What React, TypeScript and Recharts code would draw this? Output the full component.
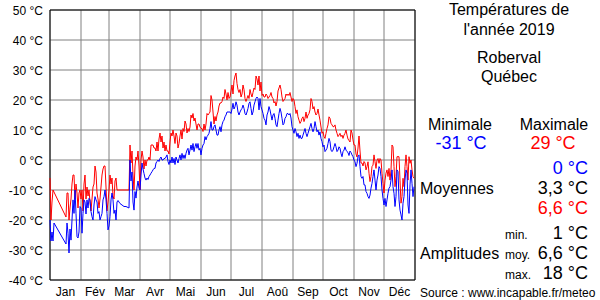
import React from 'react';
import { LineChart, Line, XAxis, YAxis, CartesianGrid, ReferenceArea } from 'recharts';

const monthStarts = [1, 32, 60, 91, 121, 152, 182, 213, 244, 274, 305, 335];
const monthNames = ['Jan', 'Fév', 'Mar', 'Avr', 'Mai', 'Jun', 'Jul', 'Aoû', 'Sep', 'Oct', 'Nov', 'Déc'];
const yTicks = [-40, -30, -20, -10, 0, 10, 20, 30, 40, 50];

// daily maxima, null = missing day
const tMax: (number | null)[] = [
  -6, -20, -14, -10, null, null, null, null, null, null, // 1
  null, null, null, null, null, null, -19, -11, -11, -20, // 11
  -16, -13, -8, -5, -5, -13, -8, -11, -16, -11, // 21
  -10, -13, -10, -17, -8, -5, -13, -9, -12, -10, // 31
  -14, -17, -13, -9, -8, -2, -4, -11, -13, -16, // 41
  -13, -9, -5, -3, -2, -2, -9, -17, -14, -10, // 51
  -5, -8, -6, -12, -13, -7, -6, -10, null, null, // 61
  null, null, null, null, null, null, null, null, null, -10, // 71
  5, -1, 3, -5, -10, -2, 1, 0, 3, -2, // 81
  -10, 0, 3, 1, -3, 0, -2, 0, 0, 1, // 91
  0, 5, 5, 5, 4, 4, 3, 6, 3, 7, // 101
  9, 6, 8, 4, 6, 3, 5, 3, 3, 2, // 111
  6, 9, 8, 10, 8, 5.5, 9, 8, 4, 5.5, // 121
  8, 10, 7, 10.5, 9.5, 13, 12, 9, 10.5, 9.5, // 131
  11, 15, 14, 15.5, 13, 14, 12, 10, 12, 12, // 141
  11, 10.5, 10.5, 9.5, 12, 10, 12, 15.5, 15, 15.5, // 151
  16, 21.5, 20, 16, 12, 14.5, 13, 15, 16, 18, // 161
  19, 19, 19.5, 21, 20.5, 23.5, 22, 20, 22.5, 20.5, // 171
  21, 23, 25, 22, 26.5, 28, 29, 25.5, 23.5, 22.5, // 181
  23.5, 21, 22, 25, 23.5, 20.5, 19.5, 20.5, 21.5, 20.5, // 191
  23.5, 22, 21, 22.5, 24, 23.5, 28, 27, 25, 28, // 201
  23, 26, 21.5, 22, 21, 21, 22, 21.5, 20.5, 21, // 211
  21.5, 22.5, 21, 20.5, 19, 19.5, 18, 19.5, 23, 24, // 221
  25, 23.5, 21, 19.5, 20, 20.5, 22, 21.5, 22, 21.5, // 231
  22.5, 21, 19.5, 20.5, 20, 17.8, 15.5, 16.7, 14.4, 13.3, // 241
  12.2, 12.8, 13.9, 14.4, 12.8, 13.9, 16, 13.9, 15, 15.5, // 251
  16.7, 20.5, 19.5, 17, 17.8, 16, 15, 15.5, 17, 15, // 261
  13.3, 11, 8.9, 9.4, 7.8, 7.2, 8.9, 10.5, 11.7, 14.4, // 271
  13.9, 12.2, 11.7, 11.1, 11.1, 11.7, 10, 8.9, 7.8, 8.3, // 281
  8.9, 7.8, 8.3, 7.2, 8.3, 8.9, 10, 8.3, 7, 6.5, // 291
  6, 10, 9, 6.7, 5, 5, 2, 1, 4, 8, // 301
  3, -1, -1, -2, -0.5, -1, -3.3, -2.2, -0.6, -4.4, // 311
  -7.2, -5.5, -2.2, -1.7, 1.7, -0.6, -2.8, 0, 0.5, -1.1, // 321
  0.5, 0, -4.4, -7.8, -11, -6.7, -4.4, -3.3, -5.5, -2.8, // 331
  -6.7, -3.3, 5, 4.4, -2.2, -8.9, -5.5, 1.1, 1.1, 1.1, // 341
  -6.7, -14.4, -12.2, -6.1, -8.9, -2.2, 1.7, -2.2, -6.7, 1.1, // 351
  -1.1, 0, -3.3, -5.5, -6.1, // 361
];

// daily minima
const tMin: (number | null)[] = [
  -20, -27, -24, -27, -21, null, null, null, null, null, // 1
  null, null, null, null, null, null, -28, -21, -24.4, -31, // 11
  -23, -26.7, -20, -13.3, -17.8, -10, -17.8, -25.5, -26, -24, // 21
  -15.5, -16, -24.4, -17.8, -13.3, -14, -18, -13.3, -16, -12.8, // 31
  -13.3, -17.2, -18.9, -20, -15, -12.2, -13.3, -14, -17.8, -17.2, // 41
  -20, -18.9, -17.8, -13.3, -12.2, -10, -13.3, -17.8, -23.3, -22, // 51
  -18.9, -13.3, -11, -13.3, -17.8, -16.7, -20, -14, -13.5, null, // 61
  -14.5, null, -15, null, -15.5, null, -15.5, null, null, -16, // 71
  0, -7, -4, -14, -16.7, -10.5, -12.7, -9, -7, -9.4, // 81
  -10, -5, -1, -3, -4.5, -6, -6.7, -6, -6.5, -5.5, // 91
  -5, -4.4, -3.9, -3.3, -2.8, -2.8, -1, -0.5, 0, -0.5, // 101
  0.5, 1, 0, 0, 0.5, 0.5, 1, 1.7, -0.5, -1.5, // 111
  0, -1, 1, -1, 0.5, -1.5, 1, 0, -1, 0.5, // 121
  1.7, 0, 2.2, 0.5, 1.7, 0.5, 2.2, 3.3, 3.9, 1.7, // 131
  3.3, 5, 3.3, 5.5, 2.8, 4.4, 5.5, 3.9, 5.5, 3.3, // 141
  3.9, 1.7, 3.9, 5, 5.5, 7.8, 6.7, 7.8, 8.3, 8.9, // 151
  10.5, 12.8, 10, 10, 11.1, 11.7, 10, 8.3, 8.3, 10, // 161
  11.1, 9.4, 11.7, 12.8, 13.3, 14.4, 15, 16, 16, 16, // 171
  16, 15.5, 17, 18.9, 17, 17.8, 19.4, 18.3, 16, 15, // 181
  16, 16.7, 17.2, 18.3, 17.2, 15.5, 15, 16, 17.2, 18.9, // 191
  19.4, 17.2, 15, 16, 18.3, 19.4, 20.5, 21, 20.5, 16.7, // 201
  20.5, 17.8, 16.7, 15.5, 13.9, 13.3, 11.7, 15, 16, 17.8, // 211
  16.7, 15, 13.3, 15, 15.5, 13.9, 11.7, 11.1, 13.3, 15.5, // 221
  17.2, 16, 13.9, 11.7, 12.2, 13.9, 14.4, 15.5, 15.5, 15, // 231
  15.5, 14, 11.1, 10, 8.9, 10.5, 9.4, 7.8, 8.9, 7.2, // 241
  8.3, 7.2, 7.2, 8.3, 9.4, 10.5, 8.9, 7.8, 8.9, 10, // 251
  11.1, 12.2, 10.5, 9.4, 10.5, 12.8, 11.1, 9.4, 10, 8.3, // 261
  9.4, 7.2, 6.1, 4.4, 5, 2.8, 3.3, 3.9, 5.5, 7.2, // 271
  6.1, 3.3, 2.8, 3.3, 4.4, 5.5, 4.4, 2.8, 3.3, 4.4, // 281
  3.9, 2.2, 1.1, 2.8, 3.3, 4.4, 3.3, 2.8, 2.5, 1.5, // 291
  3, 2.5, 1.7, 1.1, 0, -0.6, -2.2, -1.1, 1.1, 1.7, // 301
  -2.2, -5.5, -6.1, -5.5, -8.3, -8.3, -10.5, -11.1, -12.2, -12.8, // 311
  -11.7, -9.4, -7.8, -5.5, -3.3, -6.7, -10, -6.7, -5, -2.2, // 321
  -2.8, -5.5, -10, -12.8, -15, -12.8, -15.5, -13.3, -11.1, -9.4, // 331
  -8.9, -6.7, -3.3, -8.9, -11.1, -15.5, -12.2, -3.3, -3.9, -13.3, // 341
  -16.7, -18.3, -20, -14.4, -12.2, -6.7, -3.3, -4.4, -15, -17.8, // 351
  -8.3, -3.3, -7.8, -12.2, -8.9, // 361
];

const data = tMax.map((v, i) => ({ day: i + 1, tmax: v, tmin: tMin[i] }));

const FONT = '"Liberation Sans", Arial, sans-serif';

const MonthTick = (props: any) => {
  const { x, y, payload } = props;
  const i = monthStarts.indexOf(payload.value);
  const next = monthStarts[i + 1] ?? 366;
  // 1 px per day, label sits in the middle of the month
  const half = (next - payload.value) / 2;
  return (
    <text x={x + half} y={y + 8} textAnchor="middle" fontFamily={FONT} fontSize={12} fill="#000">
      {monthNames[i]}
    </text>
  );
};

const TempTick = (props: any) => {
  const { x, y, payload } = props;
  return (
    <text x={x + 1} y={y + 5} textAnchor="end" fontFamily={FONT} fontSize={12} fill="#000">
      {`${payload.value} °C`}
    </text>
  );
};

const Side: React.FC = () => {
  const t = (x: number, y: number, s: string, size = 16, anchor = 'middle', color = '#000') => (
    <text x={x} y={y} fontSize={size} textAnchor={anchor} fill={color}>{s}</text>
  );
  return (
    <svg width={600} height={300} style={{ position: 'absolute', left: 0, top: 0, pointerEvents: 'none' }} fontFamily={FONT}>
      {t(509, 15, 'Températures de')}
      {t(509, 35, "l'année 2019")}
      {t(509, 63, 'Roberval')}
      {t(509, 82, 'Québec')}
      {t(460, 130, 'Minimale')}
      {t(554, 130, 'Maximale')}
      {t(461, 149, '-31 °C', 18, 'middle', '#0000ff')}
      {t(553, 149, '29 °C', 18, 'middle', '#ff0000')}
      {t(588, 174, '0 °C', 18, 'end', '#0000ff')}
      {t(420, 194, 'Moyennes', 16, 'start')}
      {t(588, 194, '3,3 °C', 18, 'end')}
      {t(588, 214, '6,6 °C', 18, 'end', '#ff0000')}
      {t(505, 239, 'min.', 12, 'start')}
      {t(588, 239, '1 °C', 18, 'end')}
      {t(420, 259, 'Amplitudes', 16, 'start')}
      {t(505, 259, 'moy.', 12, 'start')}
      {t(588, 259, '6,6 °C', 18, 'end')}
      {t(505, 279, 'max.', 12, 'start')}
      {t(588, 279, '18 °C', 18, 'end')}
      {t(420, 297, 'Source : www.incapable.fr/meteo', 12, 'start')}
    </svg>
  );
};

export default function App() {
  return (
    <div style={{ position: 'absolute', left: 0, top: 0, width: 600, height: 300, background: '#fff' }}>
      <LineChart width={600} height={300} data={data} margin={{ top: 10, right: 185, bottom: 0, left: 0 }}>
        <CartesianGrid stroke="#808080" strokeWidth={1} />
        <XAxis
          dataKey="day"
          type="number"
          domain={[1, 366]}
          ticks={monthStarts}
          tick={<MonthTick />}
          axisLine={false}
          tickLine={false}
          height={20}
          interval={0}
        />
        <YAxis
          type="number"
          domain={[-40, 50]}
          ticks={yTicks}
          tick={<TempTick />}
          axisLine={false}
          tickLine={false}
          width={50}
          interval={0}
        />
        <Line type="linear" dataKey="tmax" stroke="#ff0000" strokeWidth={1} dot={false} activeDot={false} connectNulls isAnimationActive={false} />
        <Line type="linear" dataKey="tmin" stroke="#0000ff" strokeWidth={1} dot={false} activeDot={false} connectNulls isAnimationActive={false} />
        <ReferenceArea x1={1} x2={366} y1={-40} y2={50} fill="none" stroke="#000" strokeWidth={1} fillOpacity={0} />
      </LineChart>
      <Side />
    </div>
  );
}
